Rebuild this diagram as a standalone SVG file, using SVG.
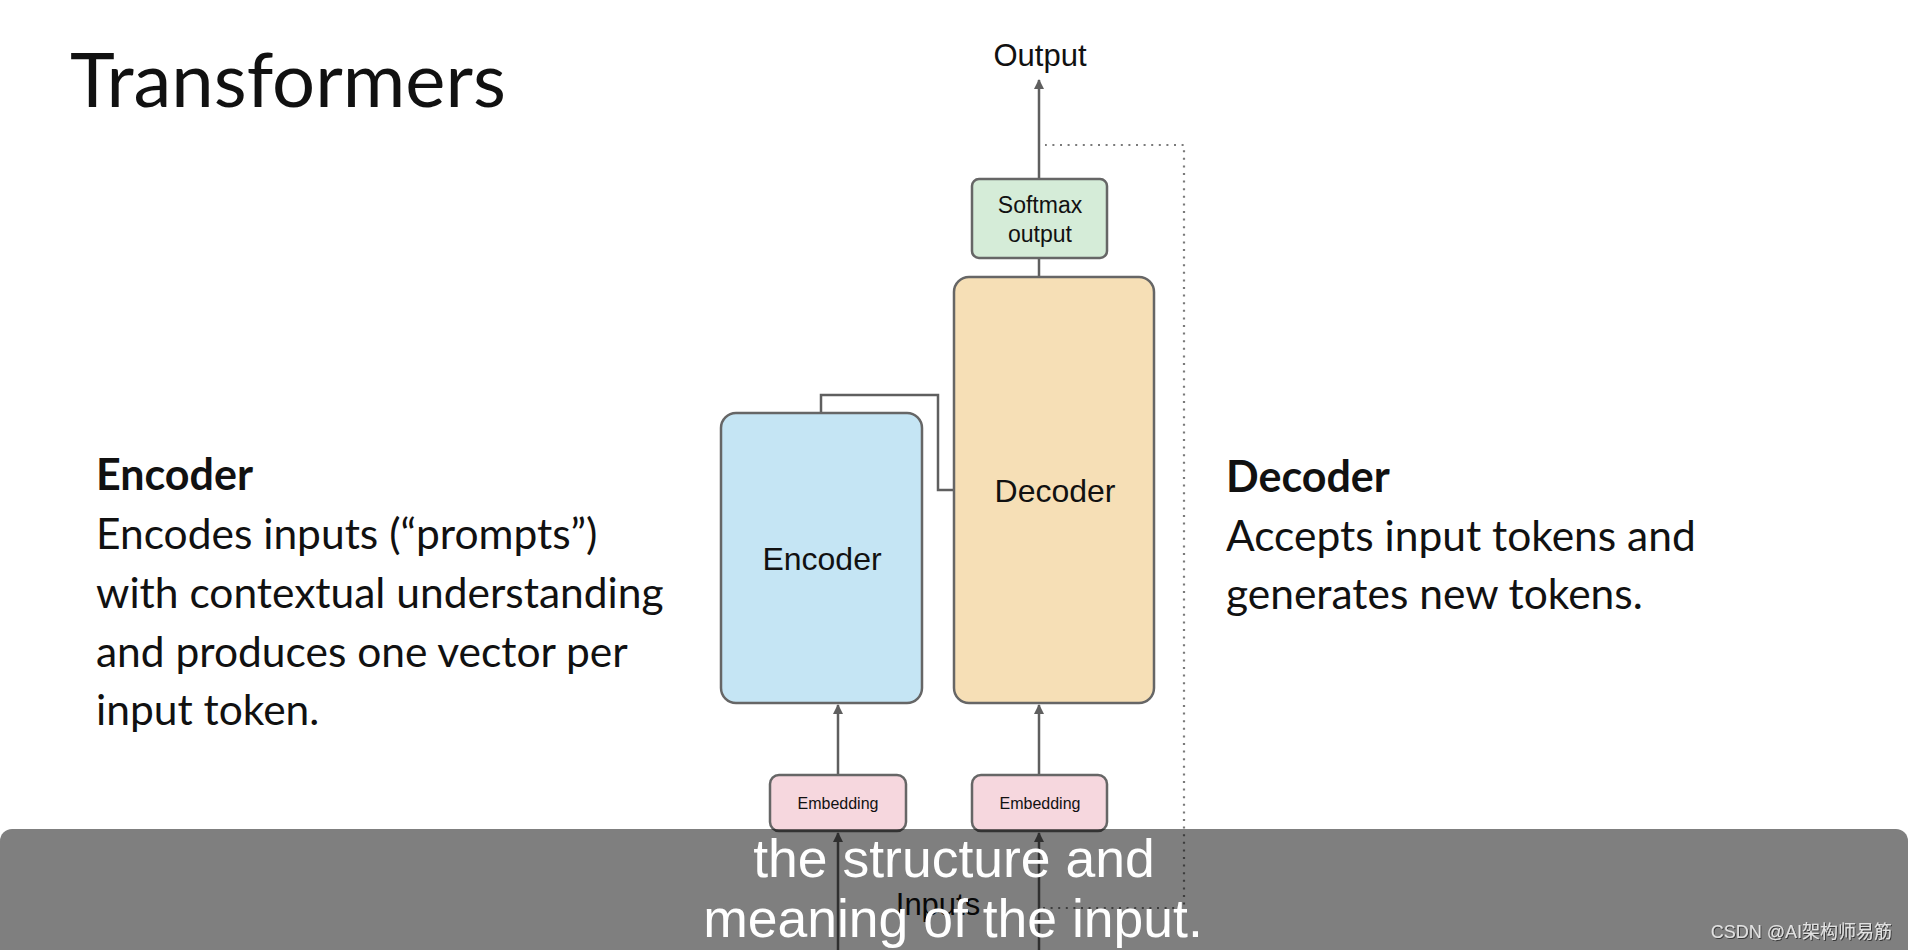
<svg xmlns="http://www.w3.org/2000/svg" width="1908" height="950" viewBox="0 0 1908 950">
<defs>
<marker id="arr" viewBox="0 0 10 10" refX="9" refY="5" markerWidth="4" markerHeight="5" orient="auto" markerUnits="strokeWidth">
<path d="M0,0 L10,5 L0,10 z" fill="#5f5f5f"/>
</marker>
<filter id="sh" x="-10%" y="-30%" width="120%" height="160%">
<feDropShadow dx="1" dy="1" stdDeviation="0.6" flood-color="#333" flood-opacity="0.9"/>
</filter>
<style>
.box{stroke:#666;stroke-width:2.5}
.lbl{font-family:"Liberation Sans",Arial,sans-serif;fill:#111;text-anchor:middle}
.conn{stroke:#5f5f5f;stroke-width:2.5;fill:none}
.dot{stroke:#7a7a7a;stroke-width:2.2;fill:none;stroke-dasharray:2 5.6}
.lato{font-family:Lato,"Liberation Sans",sans-serif;fill:#111}
</style>
</defs>
<rect width="1908" height="950" fill="#fff"/>
<text class="lato" x="70" y="107" font-size="76">Transformers</text>

<g id="encoder-desc" class="lato" font-size="42.5">
<text x="96" y="490" font-weight="bold" font-size="43">Encoder</text>
<text x="96" y="549">Encodes inputs (“prompts”)</text>
<text x="96" y="608">with contextual understanding</text>
<text x="96" y="667">and produces one vector per</text>
<text x="96" y="725">input token.</text>
</g>
<g id="decoder-desc" class="lato" font-size="42.5">
<text x="1226" y="492" font-weight="bold" font-size="43">Decoder</text>
<text x="1226" y="551">Accepts input tokens and</text>
<text x="1226" y="609">generates new tokens.</text>
</g>

<g id="connectors">
<path class="conn" d="M821,413 V395 H938 V490 H954"/>
<path class="conn" d="M838,777 V705" marker-end="url(#arr)"/>
<path class="conn" d="M1039,777 V705" marker-end="url(#arr)"/>
<path class="conn" d="M1039,277 V258"/>
<path class="conn" d="M1039,179 V80" marker-end="url(#arr)"/>
<path class="conn" d="M838,950 V833" marker-end="url(#arr)"/>
<path class="conn" d="M1039,950 V833" marker-end="url(#arr)"/>
<path class="dot" d="M1043,908 H1184 V145 H1045"/>
</g>

<g id="output"><text class="lbl" x="1040" y="66" font-size="31">Output</text></g>
<g id="softmax">
<rect class="box" x="972" y="179" width="135" height="79" rx="7" fill="#d5ecd8"/>
<text class="lbl" x="1040" y="213" font-size="23">Softmax</text>
<text class="lbl" x="1040" y="242" font-size="23">output</text>
</g>
<g id="decoder">
<rect class="box" x="954" y="277" width="200" height="426" rx="15" fill="#f6dfb6"/>
<text class="lbl" x="1055" y="502" font-size="32">Decoder</text>
</g>
<g id="encoder">
<rect class="box" x="721" y="413" width="201" height="290" rx="15" fill="#c5e5f4"/>
<text class="lbl" x="822" y="570" font-size="32">Encoder</text>
</g>
<g id="embedding-enc">
<rect class="box" x="770" y="775" width="136" height="56" rx="9" fill="#f6d7de"/>
<text class="lbl" x="838" y="809" font-size="16">Embedding</text>
</g>
<g id="embedding-dec">
<rect class="box" x="972" y="775" width="135" height="56" rx="9" fill="#f6d7de"/>
<text class="lbl" x="1040" y="809" font-size="16">Embedding</text>
</g>
<g id="inputs"><text class="lbl" x="938" y="915" font-size="31">Inputs</text></g>

<g id="subtitle">
<rect x="0" y="829" width="1908" height="140" rx="12" fill="#000" fill-opacity="0.5"/>
<text x="954" y="877" font-family="Liberation Sans,Arial,sans-serif" font-size="53.5" fill="#fff" text-anchor="middle">the structure and</text>
<text x="953" y="937" font-family="Liberation Sans,Arial,sans-serif" font-size="53.5" fill="#fff" text-anchor="middle">meaning of the input.</text>
</g>
<text x="1892" y="938" font-family="Liberation Sans,'Noto Sans CJK SC',sans-serif" font-size="18" fill="#e2e2e2" text-anchor="end" filter="url(#sh)">CSDN @AI架构师易筋</text>
</svg>
